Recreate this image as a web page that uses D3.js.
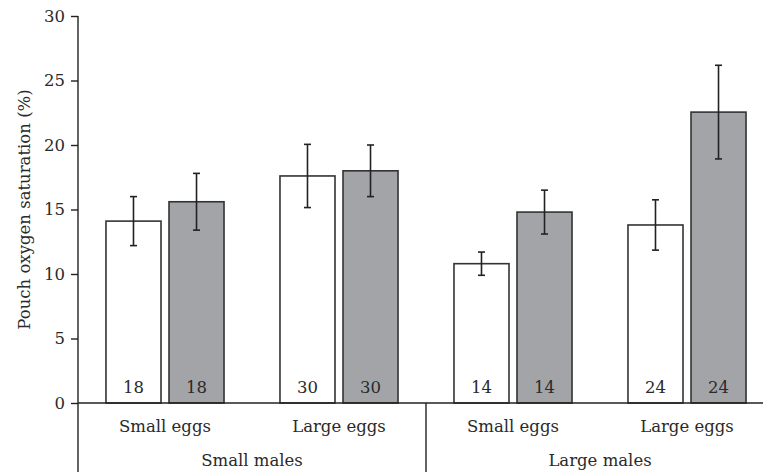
<!DOCTYPE html>
<html>
<head>
<meta charset="utf-8">
<script src="https://cdn.jsdelivr.net/npm/d3@7"></script>
<style>
  body { margin: 0; background: #fff; }
  svg text { font-family: "DejaVu Serif", serif; fill: #2a2a2a; }
</style>
</head>
<body>
<div id="chart"></div>
<script>
// data
const maleSizes = ["Small males", "Large males"];
const eggSizes = ["Small eggs", "Large eggs"];
const groups = ["sm-se", "sm-le", "lm-se", "lm-le"];
const groupLabels = ["Small eggs", "Large eggs", "Small eggs", "Large eggs"];
const series = ["open", "grey"];
const openMeans = [14.1, 17.6, 10.8, 13.8];
const openErr = [1.9, 2.45, 0.9, 1.95];
const greyMeans = [15.6, 18.0, 14.8, 22.55];
const greyErr = [2.2, 2.0, 1.7, 3.63];
const sampleN = [18, 30, 14, 24];
const yTicks = [0, 5, 10, 15, 20, 25, 30];

const width = 763, height = 472;
const margin = { left: 78, top: 16, bottom: 69 };
const plotBottom = height - margin.bottom;
const fs = 16.5;

const svg = d3.select("#chart").append("svg")
  .attr("width", width)
  .attr("height", height);

const y = d3.scaleLinear().domain([0, 30]).range([plotBottom, margin.top]);
const x0 = d3.scaleBand().domain(groups).range([margin.left, margin.left + 4 * 174]);
const x1 = d3.scaleBand().domain(series).range([0, x0.bandwidth()])
  .paddingInner(8 / 63).paddingOuter(0.444);

var rows = [];
groups.forEach((g, i) => {
  rows.push({ g: g, s: "open", v: openMeans[i], e: openErr[i], n: sampleN[i] });
  rows.push({ g: g, s: "grey", v: greyMeans[i], e: greyErr[i], n: sampleN[i] });
});

// bars
svg.selectAll(".bar")
  .data(rows)
  .enter().append("rect")
    .attr("class", "bar")
    .attr("x", d => x0(d.g) + x1(d.s))
    .attr("y", d => y(d.v))
    .attr("width", x1.bandwidth())
    .attr("height", d => plotBottom - y(d.v))
    .attr("fill", d => d.s == "grey" ? "#a3a4a8" : "#fff")
    .attr("stroke", "#333")
    .attr("stroke-width", 1.6);

// error bars
const err = svg.selectAll(".err")
  .data(rows)
  .enter().append("g")
    .attr("class", "err")
    .attr("stroke", "#222")
    .attr("stroke-width", 1.6);
const cx = d => x0(d.g) + x1(d.s) + x1.bandwidth() / 2;
err.append("line")
  .attr("x1", cx).attr("x2", cx)
  .attr("y1", d => y(d.v + d.e)).attr("y2", d => y(d.v - d.e));
err.append("line")
  .attr("x1", d => cx(d) - 3.5).attr("x2", d => cx(d) + 3.5)
  .attr("y1", d => y(d.v + d.e)).attr("y2", d => y(d.v + d.e));
err.append("line")
  .attr("x1", d => cx(d) - 3.5).attr("x2", d => cx(d) + 3.5)
  .attr("y1", d => y(d.v - d.e)).attr("y2", d => y(d.v - d.e));

// sample sizes
svg.selectAll(".n")
  .data(rows)
  .enter().append("text")
    .attr("class", "n")
    .attr("x", cx)
    .attr("y", plotBottom - 10)
    .attr("text-anchor", "middle")
    .attr("font-size", fs)
    .text(d => d.n);

// y axis
const yAxis = svg.append("g")
  .attr("transform", "translate(" + margin.left + ",0)")
  .call(d3.axisLeft(y).tickValues(yTicks).tickSize(7).tickPadding(6).tickSizeOuter(0));
yAxis.attr("font-family", null).attr("font-size", null);
yAxis.select(".domain").remove();
yAxis.selectAll("line").attr("stroke", "#222").attr("stroke-width", 1.4);
yAxis.selectAll("text").attr("font-size", fs).attr("fill", "#2a2a2a");

svg.append("line")
  .attr("x1", margin.left).attr("x2", margin.left)
  .attr("y1", margin.top).attr("y2", height)
  .attr("stroke", "#222").attr("stroke-width", 1.4);

// baseline and divider
svg.append("line")
  .attr("x1", margin.left).attr("x2", width)
  .attr("y1", plotBottom).attr("y2", plotBottom)
  .attr("stroke", "#222").attr("stroke-width", 1.4);
svg.append("line")
  .attr("x1", x0("lm-se")).attr("x2", x0("lm-se"))
  .attr("y1", plotBottom).attr("y2", height)
  .attr("stroke", "#222").attr("stroke-width", 1.4);

// category labels
svg.selectAll(".glab")
  .data(groups)
  .enter().append("text")
    .attr("class", "glab")
    .attr("x", g => x0(g) + x0.bandwidth() / 2)
    .attr("y", 432)
    .attr("text-anchor", "middle")
    .attr("font-size", fs)
    .text((g, i) => groupLabels[i]);

svg.selectAll(".mlab")
  .data(maleSizes)
  .enter().append("text")
    .attr("class", "mlab")
    .attr("x", (m, i) => x0(groups[i * 2]) + x0.bandwidth())
    .attr("y", 466)
    .attr("text-anchor", "middle")
    .attr("font-size", fs)
    .text(m => m);

// y label
svg.append("text")
  .attr("transform", "translate(30," + ((margin.top + plotBottom) / 2) + ") rotate(-90)")
  .attr("text-anchor", "middle")
  .attr("font-size", 16.5)
  .text("Pouch oxygen saturation (%)");
</script>
</body>
</html>
